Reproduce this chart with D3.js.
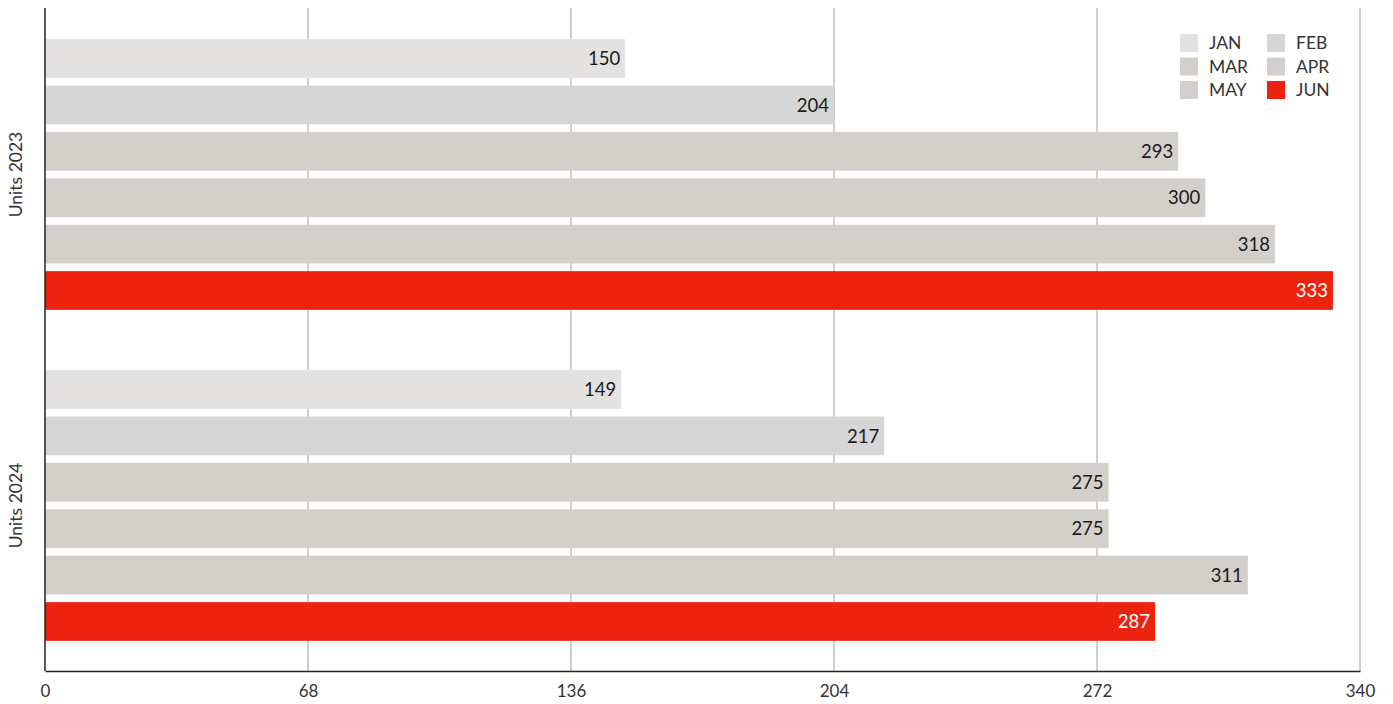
<!DOCTYPE html>
<html><head><meta charset="utf-8">
<script src="https://cdn.jsdelivr.net/npm/d3@7"></script>
<style>body{margin:0;background:#fff;}svg{display:block;font-family:Lato,sans-serif;}</style>
</head><body>
<svg id="c" width="1393" height="704"></svg>
<script>
const groups = ["Units 2023", "Units 2024"];
const months = ["JAN", "FEB", "MAR", "APR", "MAY", "JUN"];
const units2023 = [150, 204, 293, 300, 318, 333];
const units2024 = [149, 217, 275, 275, 311, 287];
const xTicks = [0, 68, 136, 204, 272, 340];
const colors = ["#e3e2e0", "#d6d6d6", "#d3d0cb", "#d3d0cb", "#d3d0cb", "#ee230f"];

const seriesByGroup = [units2023, units2024];
const svg = d3.select("#c");
const m = {l: 45, r: 33, t: 9, b: 33};
const W = 1393, H = 704;
const x = d3.scaleLinear().domain([0, 340]).range([m.l, W - m.r]);
const y0 = d3.scaleBand().domain(groups).range([m.t, H - m.b]);
const y1 = d3.scaleBand().domain(months).range([0, y0.bandwidth()]).paddingInner(0.166).paddingOuter(0.65);
const color = d3.scaleOrdinal().domain(months).range(colors);

// grid
svg.append("g").selectAll("line").data(xTicks.slice(1)).join("line")
  .attr("x1", d => x(d)).attr("x2", d => x(d))
  .attr("y1", m.t - 1).attr("y2", H - m.b)
  .attr("stroke", "#b3afab").attr("stroke-width", 1.2);

// bars
groups.forEach((g, gi) => {
  const gg = svg.append("g").attr("transform", `translate(0,${y0(g)})`);
  const data = months.map((mo, i) => ({mo, v: seriesByGroup[gi][i]}));
  gg.selectAll("rect").data(data).join("rect")
    .attr("x", x(0)).attr("y", d => y1(d.mo))
    .attr("width", d => x(d.v) - x(0)).attr("height", y1.bandwidth())
    .attr("fill", d => color(d.mo));
  gg.selectAll("text").data(data).join("text")
    .attr("x", d => x(d.v) - 5).attr("y", d => y1(d.mo) + y1.bandwidth() / 2)
    .attr("dy", "0.36em").attr("text-anchor", "end")
    .attr("font-size", 18.5)
    .attr("fill", d => d.mo === "JUN" ? "#fff" : "#1a1a1a")
    .text(d => d.v);
  svg.append("text")
    .attr("transform", `translate(22,${y0(g) + y0.bandwidth() / 2}) rotate(-90)`)
    .attr("text-anchor", "middle").attr("font-size", 17.5).attr("fill", "#333")
    .text(g);
});

// axes
const xAxis = svg.append("g").attr("transform", `translate(0,${H - m.b})`)
  .call(d3.axisBottom(x).tickValues(xTicks).tickSize(0).tickPadding(14));
xAxis.select(".domain").attr("stroke", "#222").attr("stroke-width", 1.5);
xAxis.selectAll("text").attr("font-size", 17).attr("fill", "#333").attr("font-family", "Lato, sans-serif");

svg.append("line").attr("x1", x(0)).attr("x2", x(0)).attr("y1", m.t - 1).attr("y2", H - m.b)
  .attr("stroke", "#222").attr("stroke-width", 1.5);

// legend
const lg = svg.append("g");
months.forEach((mo, i) => {
  const col = i % 2, row = Math.floor(i / 2);
  const lx = 1180 + col * 87, ly = 34 + row * 23.5;
  lg.append("rect").attr("x", lx).attr("y", ly).attr("width", 18).attr("height", 18).attr("fill", color(mo));
  lg.append("text").attr("x", lx + 29).attr("y", ly + 9).attr("dy", "0.36em")
    .attr("font-size", 17.5).attr("fill", "#333").text(mo);
});
</script>
</body></html>
